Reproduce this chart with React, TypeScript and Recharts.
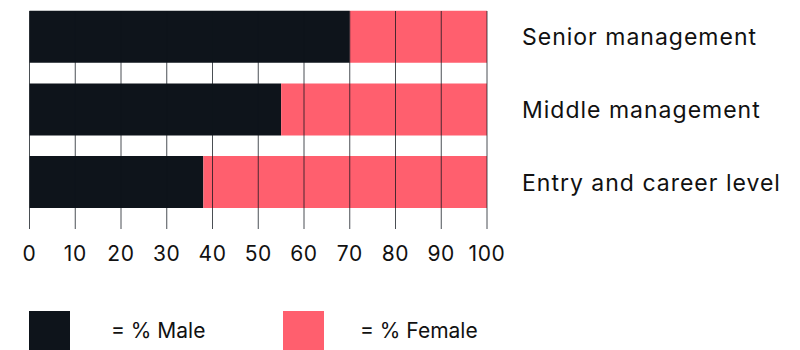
import React from 'react';
import { BarChart, Bar, XAxis, YAxis, ReferenceLine, Legend } from 'recharts';

const levels = ['Senior management', 'Middle management', 'Entry and career level'];
const malePct = [70, 55, 38];
const femalePct = [30, 45, 62];
const xTicks = [0, 10, 20, 30, 40, 50, 60, 70, 80, 90, 100];

const MALE = '#0e141b';
const FEMALE = '#ff5f6e';
const FONT = 'Inter, "Noto Sans", sans-serif';

const data = levels.map((level, i) => ({ level, male: malePct[i], female: femalePct[i] }));

const LegendBox = () => (
  <div style={{ position: 'relative', height: 39, fontFamily: FONT, fontSize: 21, color: '#111' }}>
    <div style={{ position: 'absolute', left: 29, top: 0, width: 41, height: 40, background: MALE }} />
    <div style={{ position: 'absolute', left: 111, top: 0, height: 40, lineHeight: '40px' }}>= % Male</div>
    <div style={{ position: 'absolute', left: 283, top: 0, width: 41, height: 40, background: FEMALE }} />
    <div style={{ position: 'absolute', left: 360, top: 0, height: 40, lineHeight: '40px' }}>= % Female</div>
  </div>
);

export default function App() {
  return (
    <div style={{ position: 'absolute', left: 0, top: 0, width: 800, height: 350, overflow: 'hidden' }}>
      <BarChart
        width={800}
        height={350}
        data={data}
        layout="vertical"
        margin={{ top: 11, right: 0, bottom: 0, left: 29.5 }}
      >
        <XAxis
          type="number"
          domain={[0, 100]}
          ticks={xTicks}
          interval={0}
          axisLine={false}
          tickLine={false}
          tickSize={0}
          tickMargin={17}
          height={82}
          tick={{ fill: '#111', fontSize: 21, fontFamily: FONT, letterSpacing: 0.6 }}
        />
        <YAxis
          type="category"
          dataKey="level"
          orientation="right"
          width={313}
          axisLine={false}
          tickLine={false}
          tickSize={0}
          tickMargin={35}
          padding={{ top: -10.25, bottom: 10.25 }}
          tick={{ fill: '#111', fontSize: 23, fontFamily: FONT, textAnchor: 'start', letterSpacing: 1 }}
        />
        <Bar dataKey="male" stackId="g" fill={MALE} barSize={52} isAnimationActive={false} />
        <Bar dataKey="female" stackId="g" fill={FEMALE} barSize={52} isAnimationActive={false} />
        {xTicks.map((t) => (
          <ReferenceLine key={t} x={t} stroke={MALE} strokeOpacity={0.75} strokeWidth={1} />
        ))}
        <Legend verticalAlign="bottom" content={<LegendBox />} wrapperStyle={{ width: 800, left: 0, height: 39 }} />
      </BarChart>
    </div>
  );
}
